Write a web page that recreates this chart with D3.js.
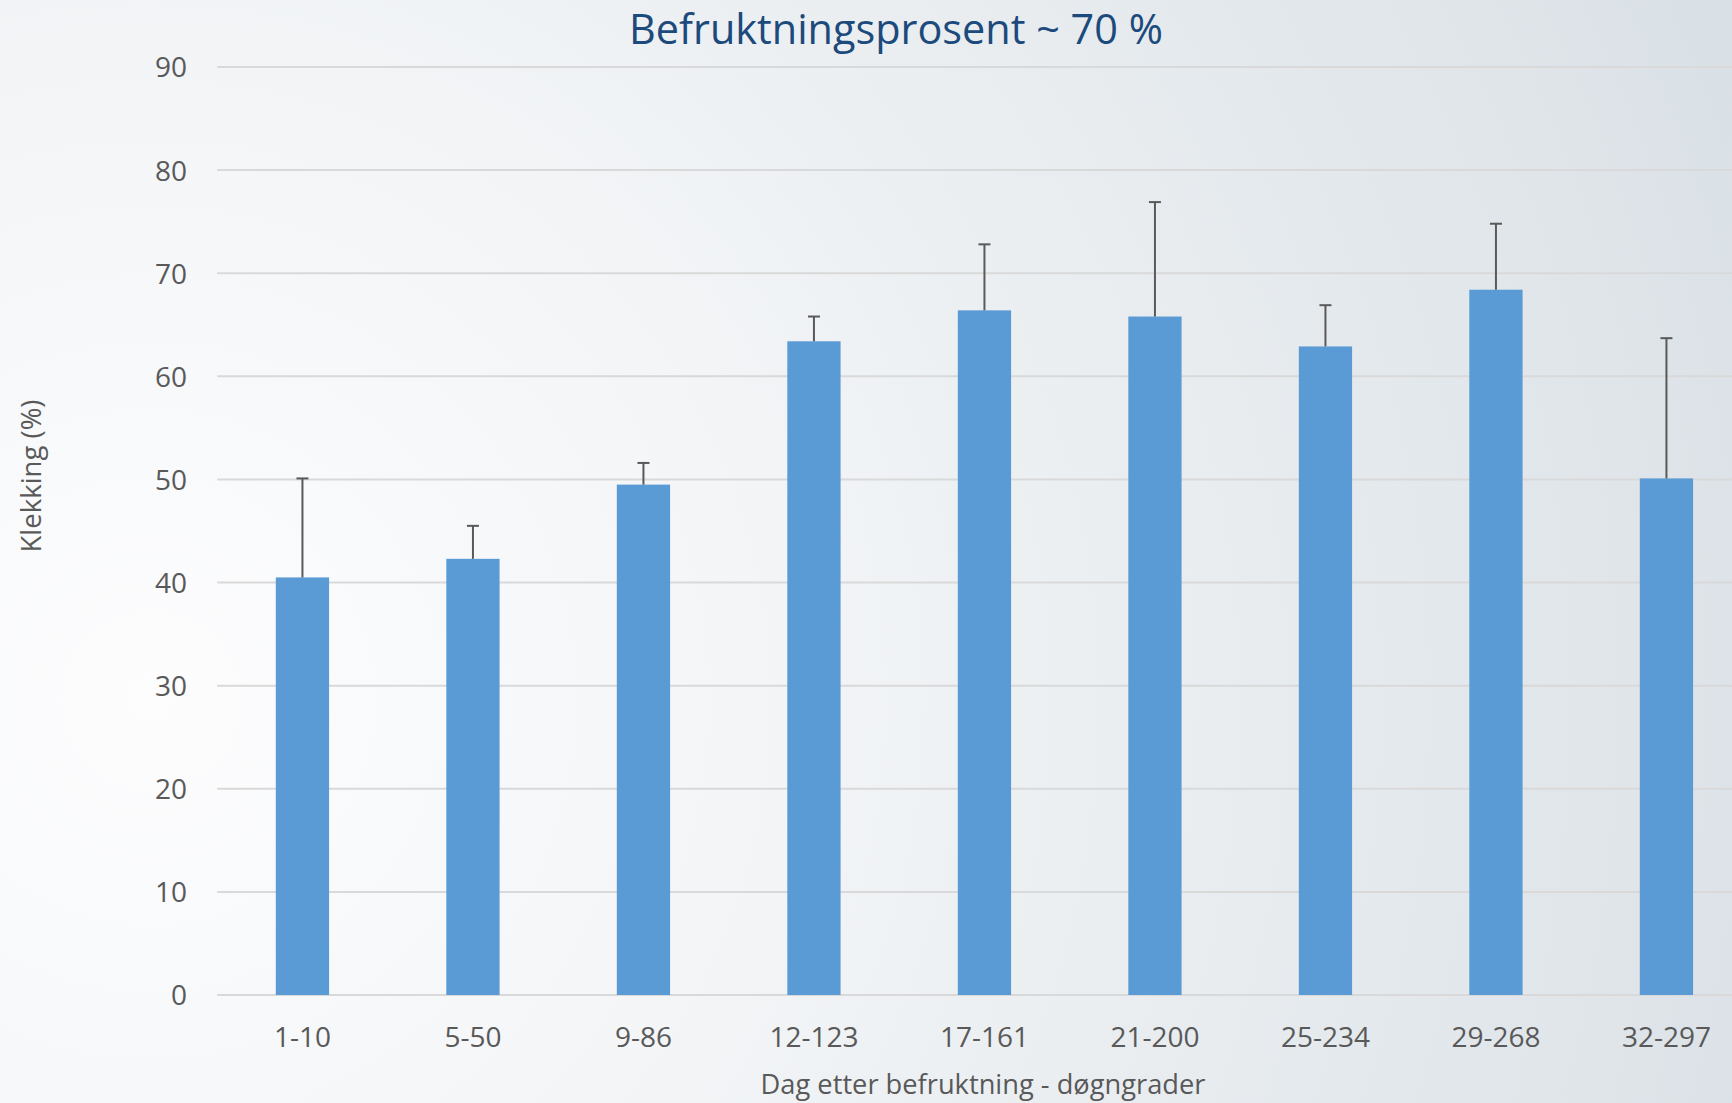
<!DOCTYPE html>
<html>
<head>
<meta charset="utf-8">
<script src="https://cdn.jsdelivr.net/npm/d3@7"></script>
<style>
html, body { margin: 0; padding: 0; overflow: hidden; }
svg { display: block; }
text { font-family: "Open Sans", "Noto Sans", sans-serif; }
</style>
</head>
<body>
<svg id="chart" width="1732" height="1103"></svg>
<script>
const categories = ["1-10", "5-50", "9-86", "12-123", "17-161", "21-200", "25-234", "29-268", "32-297"];
const values = [40.5, 42.3, 49.5, 63.4, 66.4, 65.8, 62.9, 68.4, 50.1];
const errorTops = [50.1, 45.5, 51.6, 65.8, 72.8, 76.9, 66.9, 74.8, 63.7];
const yTicks = [0, 10, 20, 30, 40, 50, 60, 70, 80, 90];
const titleText = "Befruktningsprosent ~ 70 %";
const xTitle = "Dag etter befruktning - døgngrader";
const yTitle = "Klekking (%)";

const W = 1732, H = 1103;
const svg = d3.select("#chart");

// background gradient
const defs = svg.append("defs");
const rg = defs.append("radialGradient").attr("id", "bg")
  .attr("gradientUnits", "userSpaceOnUse")
  .attr("cx", 150).attr("cy", 700).attr("r", 1750);
rg.append("stop").attr("offset", "0%").attr("stop-color", "#fdfdfe");
rg.append("stop").attr("offset", "35%").attr("stop-color", "#f3f5f7");
rg.append("stop").attr("offset", "100%").attr("stop-color", "#d9e0e5");
svg.append("rect").attr("width", W).attr("height", H).attr("fill", "url(#bg)");

const plotLeft = 217.2, step = 170.5;
const x = d3.scaleBand().domain(categories)
  .range([plotLeft, plotLeft + step * categories.length])
  .paddingInner(0.6875).paddingOuter(0.34375);
const y = d3.scaleLinear().domain([0, 90]).range([995, 67]);

// gridlines
svg.append("g").selectAll("line").data(yTicks).join("line")
  .attr("x1", plotLeft).attr("x2", W)
  .attr("y1", d => y(d)).attr("y2", d => y(d))
  .attr("stroke", "#d9d9d9").attr("stroke-width", 2);

// y axis labels
const yAxis = d3.axisLeft(y).tickValues(yTicks).tickSize(0).tickPadding(0);
const gy = svg.append("g").attr("transform", `translate(187,1)`).call(yAxis);
gy.select(".domain").remove();
gy.selectAll("text").attr("font-size", 28).attr("fill", "#595959")
  .attr("font-family", "'Open Sans', sans-serif");

// x axis labels
const xAxis = d3.axisBottom(x).tickSize(0).tickPadding(0);
const gx = svg.append("g").attr("transform", `translate(0,1027)`).call(xAxis);
gx.select(".domain").remove();
gx.selectAll("text").attr("font-size", 28).attr("fill", "#595959")
  .attr("font-family", "'Open Sans', sans-serif").attr("dy", "0.71em");

// bars
svg.append("g").selectAll("rect").data(categories).join("rect")
  .attr("x", d => x(d)).attr("width", x.bandwidth())
  .attr("y", (d, i) => y(values[i]))
  .attr("height", (d, i) => y(0) - y(values[i]))
  .attr("fill", "#5b9bd5");

// error bars
const eb = svg.append("g").attr("stroke", "#595959").attr("stroke-width", 2);
categories.forEach((c, i) => {
  const cx = x(c) + x.bandwidth() / 2;
  eb.append("line").attr("x1", cx).attr("x2", cx)
    .attr("y1", y(values[i])).attr("y2", y(errorTops[i]));
  eb.append("line").attr("x1", cx - 6).attr("x2", cx + 6)
    .attr("y1", y(errorTops[i])).attr("y2", y(errorTops[i]));
});

function fit(sel, target) {
  const w = sel.node().getComputedTextLength();
  const fs = parseFloat(sel.attr("font-size"));
  sel.attr("font-size", fs * target / w);
}

// title
const t = svg.append("text").attr("x", 896).attr("y", 43.5)
  .attr("text-anchor", "middle").attr("font-size", 38).attr("fill", "#1c4a7c")
  .text(titleText);
fit(t, 534);

// x title
const xt = svg.append("text").attr("x", 983).attr("y", 1094)
  .attr("text-anchor", "middle").attr("font-size", 28).attr("fill", "#595959")
  .text(xTitle);
fit(xt, 445);

// y title
const yt = svg.append("text").attr("transform", "translate(41,476) rotate(-90)")
  .attr("text-anchor", "middle").attr("font-size", 28).attr("fill", "#595959")
  .text(yTitle);
fit(yt, 153);
</script>
</body>
</html>
